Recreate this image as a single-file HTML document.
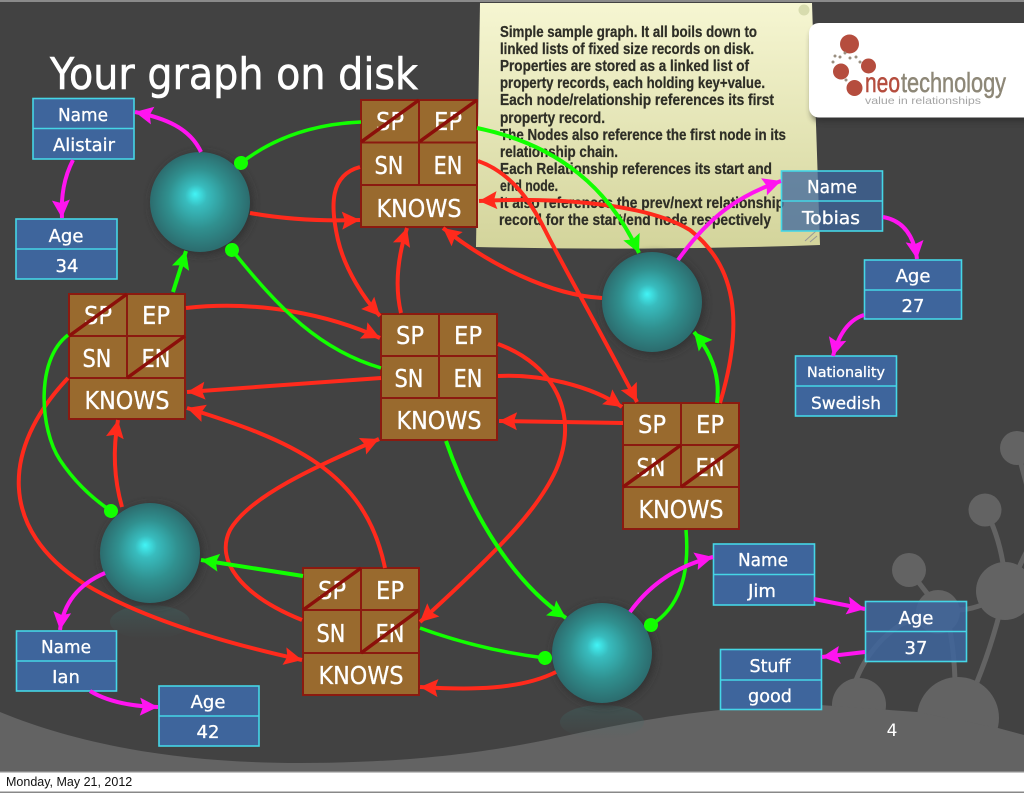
<!DOCTYPE html>
<html><head><meta charset="utf-8"><style>
html,body{margin:0;padding:0;background:#424242}
svg{display:block}
.r{fill:#996a2e;stroke:#8b1a10;stroke-width:2}
.rl{stroke:#8b1a10;stroke-width:2;fill:none}
.st{stroke:#8b0f0a;stroke-width:3.5;fill:none}
.t{font-family:"DejaVu Sans",sans-serif;fill:#fff;text-anchor:middle;stroke:#fff;stroke-width:.3}
.b{font-size:25px}
.p{font-size:18px}
.pb{fill:#3e659c;stroke:#45d6e6;stroke-width:1.6}
.n{font-family:"Liberation Sans",sans-serif;font-weight:bold;font-size:16px;fill:#2e2e26;stroke:#2e2e26;stroke-width:.25}
.er{fill:none;stroke:#ff2a1c;stroke-width:4;marker-end:url(#ar)}
.eg{fill:none;stroke:#12ff00;stroke-width:4;marker-end:url(#ag)}
.ed{fill:none;stroke:#12ff00;stroke-width:3.5;marker-end:url(#dg)}
.em{fill:none;stroke:#ff14f0;stroke-width:4;marker-end:url(#am)}
</style></head><body>
<svg xmlns="http://www.w3.org/2000/svg" width="1024" height="793" viewBox="0 0 1024 793">
<defs>
<radialGradient id="s" cx=".5" cy=".5" r=".5" fx=".45" fy=".42">
<stop offset="0" stop-color="#42f4f6"/><stop offset=".22" stop-color="#38bcbe"/><stop offset=".6" stop-color="#30908f"/><stop offset="1" stop-color="#2c6c6e"/>
</radialGradient>
<linearGradient id="nt" x1="0" y1="0" x2="0" y2="1"><stop offset="0" stop-color="#f6f6d2"/><stop offset="1" stop-color="#d3d49b"/></linearGradient>
<linearGradient id="rf" x1="0" y1="0" x2="0" y2="1"><stop offset="0" stop-color="#3f6a68" stop-opacity=".4"/><stop offset="1" stop-color="#3f6a68" stop-opacity="0"/></linearGradient>
<filter id="bl" x="-30%" y="-30%" width="160%" height="160%"><feGaussianBlur stdDeviation="4"/></filter>
<filter id="lg" x="-10%" y="-20%" width="120%" height="150%"><feGaussianBlur stdDeviation="3"/></filter>
<marker id="ar" markerUnits="userSpaceOnUse" markerWidth="20" markerHeight="20" refX="19" refY="10" orient="auto"><path d="M1 1L19 10L1 19L4 10Z" fill="#ff2a1c"/></marker>
<marker id="ag" markerUnits="userSpaceOnUse" markerWidth="20" markerHeight="20" refX="19" refY="10" orient="auto"><path d="M1 1L19 10L1 19L4 10Z" fill="#12ff00"/></marker>
<marker id="am" markerUnits="userSpaceOnUse" markerWidth="20" markerHeight="20" refX="19" refY="10" orient="auto"><path d="M1 1L19 10L1 19L4 10Z" fill="#ff14f0"/></marker>
<marker id="dg" markerUnits="userSpaceOnUse" markerWidth="16" markerHeight="16" refX="8" refY="8" orient="auto"><circle cx="8" cy="8" r="7" fill="#12ff00"/></marker>
</defs>
<rect width="1024" height="793" fill="#424242"/>
<rect width="1024" height="2" fill="#8a8a8a"/>
<!-- background tree -->
<g fill="none" stroke="#636363" stroke-width="5">
<path d="M909 570L940 610"/><path d="M856 680Q870 645 900 625Q930 610 960 610Q985 608 1006 590"/><path d="M955 680Q954 650 949 625"/>
<path d="M977 682Q990 650 1000 612"/><path d="M988 515Q1000 540 1004 570"/><path d="M1020 460Q1024 475 1028 490"/><path d="M1018 570Q1022 560 1030 545"/>
</g>
<g fill="#636363" stroke="none">
<circle cx="859" cy="705" r="27"/><circle cx="958" cy="718" r="41"/>
<circle cx="909" cy="570" r="17"/><circle cx="985" cy="510" r="16.5"/><circle cx="1017" cy="448" r="17"/><circle cx="1005" cy="591" r="29"/><circle cx="938" cy="612" r="22"/>
<path d="M0 712C80 745 180 763 300 763C420 763 500 750 560 737C620 724 670 715 720 710L760 705L820 705L917 712L998 728L1024 735V772H0Z"/>
</g>
<!-- title -->
<text x="50" y="89" font-family="'DejaVu Sans',sans-serif" font-size="44" fill="#fff" stroke="#fff" stroke-width=".6" textLength="368" lengthAdjust="spacingAndGlyphs">Your graph on disk</text>
<!-- note -->
<path d="M480 3H812L820 245Q650 251 476 247Z" fill="url(#nt)"/>
<circle cx="804" cy="10" r="5.5" fill="#d8dcae"/>
<path d="M805 241L816 231M810 242L817 236" stroke="#999" stroke-width="1"/>
<g class="n">
<text x="500" y="37" textLength="257" lengthAdjust="spacingAndGlyphs">Simple sample graph. It all boils down to</text>
<text x="500" y="54" textLength="254" lengthAdjust="spacingAndGlyphs">linked lists of fixed size records on disk.</text>
<text x="500" y="71" textLength="249" lengthAdjust="spacingAndGlyphs">Properties are stored as a linked list of</text>
<text x="500" y="88" textLength="265" lengthAdjust="spacingAndGlyphs">property records, each holding key+value.</text>
<text x="500" y="105" textLength="274" lengthAdjust="spacingAndGlyphs">Each node/relationship references its first</text>
<text x="500" y="123" textLength="105" lengthAdjust="spacingAndGlyphs">property record.</text>
<text x="500" y="140" textLength="286" lengthAdjust="spacingAndGlyphs">The Nodes also reference the first node in its</text>
<text x="500" y="157" textLength="118" lengthAdjust="spacingAndGlyphs">relationship chain.</text>
<text x="500" y="174" textLength="272" lengthAdjust="spacingAndGlyphs">Each Relationship references its start and</text>
<text x="500" y="191" textLength="58" lengthAdjust="spacingAndGlyphs">end node.</text>
<text x="500" y="208" textLength="284" lengthAdjust="spacingAndGlyphs">It also references the prev/next relationship</text>
<text x="499" y="225" textLength="272" lengthAdjust="spacingAndGlyphs">record for the start/end node respectively</text>
</g>
<!-- logo -->
<rect x="811" y="28" width="225" height="94" rx="10" fill="#2a2a2a" opacity=".6" filter="url(#lg)"/>
<rect x="809" y="23" width="230" height="94.500" rx="10" fill="#fff"/>
<g fill="#b54d3e"><circle cx="849.500" cy="44" r="9.500"/><circle cx="868.500" cy="66" r="7.500"/><circle cx="841" cy="71.500" r="8"/><circle cx="854.500" cy="88" r="8"/></g>
<g fill="#9a8f80"><circle cx="840" cy="57" r="1.500"/><circle cx="845" cy="53" r="1.500"/><circle cx="835" cy="56" r="1.500"/><circle cx="833" cy="62" r="1.500"/><circle cx="850" cy="58" r="1.500"/><circle cx="856" cy="57" r="1.500"/><circle cx="860" cy="62" r="1.500"/><circle cx="846" cy="80" r="1.500"/></g>
<text x="865" y="92" font-family="'Liberation Sans',sans-serif" font-size="28" fill="#b54d3e" stroke="#b54d3e" stroke-width=".5" textLength="35" lengthAdjust="spacingAndGlyphs">neo</text>
<text x="901" y="92" font-family="'Liberation Sans',sans-serif" font-size="28" fill="#8d8777" stroke="#8d8777" stroke-width=".5" textLength="105" lengthAdjust="spacingAndGlyphs">technology</text>
<text x="865" y="104" font-family="'Liberation Sans',sans-serif" font-size="10.500" fill="#a5a5a5" textLength="116" lengthAdjust="spacingAndGlyphs">value in relationships</text>
<!-- reflections -->
<ellipse cx="150" cy="622" rx="40" ry="17" fill="url(#rf)"/>
<ellipse cx="602" cy="722" rx="42" ry="17" fill="url(#rf)"/>
<!-- spheres -->
<g>
<circle cx="202" cy="204" r="51" fill="#333" filter="url(#bl)"/><circle cx="200" cy="202" r="50" fill="url(#s)"/>
<circle cx="654" cy="304" r="51" fill="#333" filter="url(#bl)"/><circle cx="652" cy="302" r="50" fill="url(#s)"/>
<circle cx="152" cy="555" r="51" fill="#333" filter="url(#bl)"/><circle cx="150" cy="553" r="50" fill="url(#s)"/>
<circle cx="604" cy="655" r="51" fill="#333" filter="url(#bl)"/><circle cx="602" cy="653" r="50" fill="url(#s)"/>
</g>
<!-- records -->
<g id="A"><rect class="r" x="361" y="100" width="116" height="127"/><path class="rl" d="M361 142.500H477M361 185H477M419 100V185"/></g>
<g id="B"><rect class="r" x="69" y="294" width="116" height="125"/><path class="rl" d="M69 336H185M69 378H185M127 294V378"/></g>
<g id="C"><rect class="r" x="381" y="314" width="116" height="126"/><path class="rl" d="M381 356H497M381 398H497M439 314V398"/></g>
<g id="D"><rect class="r" x="623" y="403" width="116" height="126"/><path class="rl" d="M623 445H739M623 487H739M681 403V487"/></g>
<g id="E"><rect class="r" x="303" y="568" width="116" height="127"/><path class="rl" d="M303 610H419M303 653H419M361 568V653"/></g>
<g class="t b">
<text x="390" y="130" textLength="28" lengthAdjust="spacingAndGlyphs">SP</text><text x="448" y="130" textLength="28" lengthAdjust="spacingAndGlyphs">EP</text><text x="389" y="174" textLength="29" lengthAdjust="spacingAndGlyphs">SN</text><text x="448" y="174" textLength="29" lengthAdjust="spacingAndGlyphs">EN</text><text x="419" y="217" textLength="85" lengthAdjust="spacingAndGlyphs">KNOWS</text>
<text x="98" y="324" textLength="28" lengthAdjust="spacingAndGlyphs">SP</text><text x="156" y="324" textLength="28" lengthAdjust="spacingAndGlyphs">EP</text><text x="97" y="367" textLength="29" lengthAdjust="spacingAndGlyphs">SN</text><text x="156" y="367" textLength="29" lengthAdjust="spacingAndGlyphs">EN</text><text x="127" y="409" textLength="85" lengthAdjust="spacingAndGlyphs">KNOWS</text>
<text x="410" y="344" textLength="28" lengthAdjust="spacingAndGlyphs">SP</text><text x="468" y="344" textLength="28" lengthAdjust="spacingAndGlyphs">EP</text><text x="409" y="387" textLength="29" lengthAdjust="spacingAndGlyphs">SN</text><text x="468" y="387" textLength="29" lengthAdjust="spacingAndGlyphs">EN</text><text x="439" y="429" textLength="85" lengthAdjust="spacingAndGlyphs">KNOWS</text>
<text x="652" y="433" textLength="28" lengthAdjust="spacingAndGlyphs">SP</text><text x="710" y="433" textLength="28" lengthAdjust="spacingAndGlyphs">EP</text><text x="651" y="476" textLength="29" lengthAdjust="spacingAndGlyphs">SN</text><text x="710" y="476" textLength="29" lengthAdjust="spacingAndGlyphs">EN</text><text x="681" y="518" textLength="85" lengthAdjust="spacingAndGlyphs">KNOWS</text>
<text x="332" y="599" textLength="28" lengthAdjust="spacingAndGlyphs">SP</text><text x="390" y="599" textLength="28" lengthAdjust="spacingAndGlyphs">EP</text><text x="331" y="642" textLength="29" lengthAdjust="spacingAndGlyphs">SN</text><text x="390" y="642" textLength="29" lengthAdjust="spacingAndGlyphs">EN</text><text x="361" y="684" textLength="85" lengthAdjust="spacingAndGlyphs">KNOWS</text>
</g>
<path class="st" d="M361 142L419 100M419 142L477 100M69 336L127 294M127 378L185 336M623 487L681 445M681 487L739 445M303 610L361 568M361 653L419 610"/>
<!-- red edges -->
<path class="er" d="M250 213Q300 222 360 220"/>
<path class="er" d="M360 167C330 175 330 205 338 240C345 270 365 300 380 316"/>
<path class="er" d="M401 313Q392 275 407 228"/>
<path class="er" d="M602 298C550 295 490 265 443 228"/>
<path class="er" d="M478 161C510 172 530 200 545 230C565 270 600 330 637 402"/>
<path class="er" d="M720 403C745 320 735 265 690 230C640 200 540 198 479 201"/>
<path class="er" d="M186 308C260 300 330 315 380 338"/>
<path class="er" d="M381 378L187 392"/>
<path class="er" d="M385 568C365 470 290 440 187 408"/>
<path class="er" d="M302 620C240 595 215 560 230 530C250 495 320 465 379 439"/>
<path class="er" d="M498 344C555 365 580 415 556 470C540 505 510 540 420 622"/>
<path class="er" d="M498 376C540 374 590 385 622 407"/>
<path class="er" d="M623 423L499 421"/>
<path class="er" d="M68 378C0 450 0 530 83 583C140 618 220 642 302 660"/>
<path class="er" d="M122 507Q110 465 118 420"/>
<path class="er" d="M556 672C520 690 470 690 420 687"/>
<!-- green edges -->
<path class="ed" d="M361 122Q290 125 241 163"/>
<path class="ed" d="M381 368C320 350 280 310 232 250"/>
<path class="eg" d="M477 128C560 145 610 190 639 253"/>
<path class="ed" d="M68 335C35 360 40 430 60 460Q80 490 111 511"/>
<path class="eg" d="M173 292L186 251"/>
<path class="eg" d="M717 403Q722 365 694 332"/>
<path class="ed" d="M686 530Q692 600 651 625"/>
<path class="eg" d="M446 441C470 510 510 580 566 618"/>
<path class="ed" d="M420 628Q480 650 545 658"/>
<path class="eg" d="M303 576L201 560"/>
<!-- property boxes -->
<g>
<rect class="pb" x="33" y="98.500" width="101" height="60.500"/><path class="pb" d="M33 128.500H134"/>
<rect class="pb" x="16" y="219" width="101" height="60"/><path class="pb" d="M16 249H117"/>
<rect class="pb" x="781.500" y="171" width="101" height="60" fill-opacity=".75"/><path class="pb" d="M781.500 201H882"/>
<rect class="pb" x="864.500" y="260" width="97" height="59"/><path class="pb" d="M864.500 290H961"/>
<rect class="pb" x="795.500" y="356" width="101" height="60"/><path class="pb" d="M795.500 386H896"/>
<rect class="pb" x="713.500" y="544" width="101" height="61"/><path class="pb" d="M713.500 574.500H814"/>
<rect class="pb" x="865.500" y="601.500" width="101" height="60" fill-opacity=".85"/><path class="pb" d="M865.500 631.500H966"/>
<rect class="pb" x="720.500" y="649.500" width="101" height="60"/><path class="pb" d="M720.500 680H821"/>
<rect class="pb" x="16.500" y="631" width="100" height="60"/><path class="pb" d="M16.500 661H117"/>
<rect class="pb" x="159" y="686" width="100" height="60"/><path class="pb" d="M159 716H259"/>
</g>
<g class="t p">
<text x="83" y="121" textLength="50" lengthAdjust="spacingAndGlyphs">Name</text><text x="84" y="151" textLength="62" lengthAdjust="spacingAndGlyphs">Alistair</text>
<text x="66" y="242">Age</text><text x="67" y="272">34</text>
<text x="832" y="193" textLength="50" lengthAdjust="spacingAndGlyphs">Name</text><text x="831" y="224" textLength="58" lengthAdjust="spacingAndGlyphs">Tobias</text>
<text x="913" y="282">Age</text><text x="913" y="312">27</text>
<text x="846" y="377" style="font-size:14.500px" textLength="78" lengthAdjust="spacingAndGlyphs">Nationality</text><text x="846" y="409" style="font-size:17px" textLength="70" lengthAdjust="spacingAndGlyphs">Swedish</text>
<text x="763" y="566" textLength="50" lengthAdjust="spacingAndGlyphs">Name</text><text x="762" y="597">Jim</text>
<text x="916" y="624">Age</text><text x="916" y="654">37</text>
<text x="770" y="672" textLength="41" lengthAdjust="spacingAndGlyphs">Stuff</text><text x="770" y="702" textLength="44" lengthAdjust="spacingAndGlyphs">good</text>
<text x="66" y="653" textLength="50" lengthAdjust="spacingAndGlyphs">Name</text><text x="66" y="683">Ian</text>
<text x="208" y="708">Age</text><text x="208" y="738">42</text>
</g>
<!-- magenta edges -->
<path class="em" d="M201 152C190 128 165 118 135 112"/>
<path class="em" d="M73 160Q60 185 62 218"/>
<path class="em" d="M678 260C710 215 740 195 781 181"/>
<path class="em" d="M883 217Q912 222 917 259"/>
<path class="em" d="M864 315Q842 322 833 356"/>
<path class="em" d="M630 612Q660 570 713 557"/>
<path class="em" d="M814 599L865 609"/>
<path class="em" d="M865 652L822 657"/>
<path class="em" d="M105 573Q65 590 60 630"/>
<path class="em" d="M90 691Q115 706 158 707"/>
<!-- page number -->
<text x="892" y="736" font-family="'DejaVu Sans',sans-serif" font-size="17" fill="#fff" text-anchor="middle">4</text>
<!-- footer -->
<rect y="771" width="1024" height="22" fill="#888"/>
<rect y="772.500" width="1024" height="19" fill="#fff"/>
<text x="6" y="786" font-family="'Liberation Sans',sans-serif" font-size="12.500" fill="#111">Monday, May 21, 2012</text>
</svg>
</body></html>
